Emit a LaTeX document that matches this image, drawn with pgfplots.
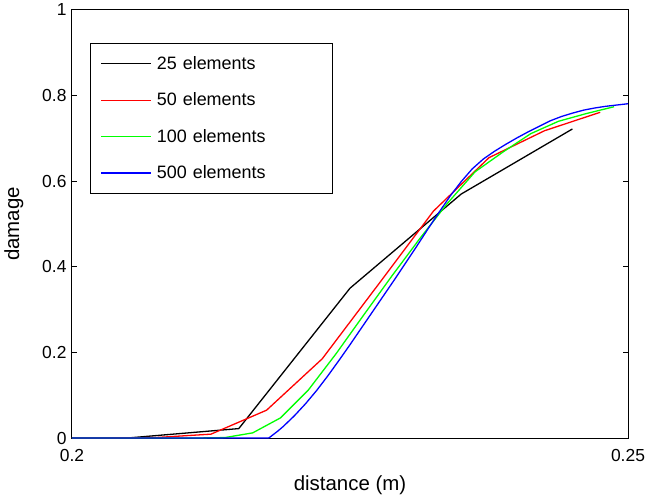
\documentclass[border=0pt]{standalone}
\usepackage{pgfplots}
\pgfplotsset{compat=1.18}
\usepackage{fontspec}
\setmainfont{Liberation Sans}

\begin{document}
\begin{tikzpicture}
\begin{axis}[
    scale only axis,
    width=556bp, height=428bp,
    xmin=0.2, xmax=0.25, ymin=0, ymax=1,
    xtick={0.2,0.25}, xticklabels={0.2,0.25},
    ytick={0,0.2,0.4,0.6,0.8,1},
    yticklabels={0,0.2,0.4,0.6,0.8,1},
    tick align=inside, major tick length=5bp,
    axis line style={line width=1bp},
    every tick/.style={black, line width=1bp},
    tick label style={font=\fontsize{17.5}{20}\selectfont},
    xticklabel style={yshift=-8bp},
    yticklabel style={xshift=-2bp},
    label style={font=\fontsize{20.5}{24}\selectfont},
    xlabel={distance (m)},
    ylabel={damage},
    xlabel style={at={(axis description cs:0.5,-0.1215)}, anchor=base},
    ylabel style={at={(axis description cs:-0.0953,0.5)}, anchor=base},
    legend cell align=left,
    legend image code/.code={\draw[#1, line width=1.4bp] (0bp,0bp) -- (50bp,0bp);},
    legend style={at={(rel axis cs:0.0324,0.9229)}, anchor=north west,
        draw=black, line width=1bp, inner xsep=10bp, inner ysep=11bp,
        row sep=18bp, column sep=4bp,
        font=\fontsize{18}{20}\selectfont,
        nodes={text width=165bp, align=left, inner xsep=1bp}},
    every axis plot/.append style={line width=1.3bp},
]
\addplot[black] coordinates {
    (0.2,0) (0.205,0) (0.215,0.022) (0.225,0.35) (0.235,0.57) (0.245,0.722)
};
\addlegendentry{25 elements}
\addplot[red] coordinates {
    (0.2,0) (0.2025,0) (0.2075,0.001) (0.2125,0.009) (0.2175,0.065)
    (0.2225,0.185) (0.2275,0.357) (0.2325,0.53) (0.2375,0.655)
    (0.2425,0.718) (0.2475,0.761)
};
\addlegendentry{50 elements}
\addplot[green] coordinates {
    (0.2,0) (0.21125,0) (0.21375,0.001) (0.21625,0.012) (0.21875,0.047)
    (0.22125,0.112) (0.22375,0.197) (0.22625,0.288) (0.22875,0.378)
    (0.23125,0.465) (0.23375,0.548) (0.23625,0.622) (0.23875,0.668)
    (0.24125,0.711) (0.24375,0.74) (0.24625,0.758) (0.24875,0.774)
};
\addlegendentry{100 elements}
\addplot[color=blue] coordinates {
    (0.2,0) (0.2177,0) (0.218,0.006) (0.2185,0.016) (0.219,0.027)
    (0.220,0.052) (0.221,0.080) (0.222,0.111) (0.223,0.145) (0.224,0.181)
    (0.225,0.218) (0.226,0.256) (0.227,0.294) (0.228,0.332) (0.229,0.370)
    (0.230,0.409) (0.231,0.448) (0.232,0.488) (0.233,0.527) (0.234,0.565)
    (0.235,0.599) (0.236,0.629) (0.237,0.652) (0.238,0.670) (0.239,0.686)
    (0.240,0.701) (0.241,0.715) (0.242,0.728) (0.243,0.741) (0.244,0.751)
    (0.245,0.759) (0.246,0.766) (0.247,0.771) (0.248,0.775) (0.249,0.778)
    (0.250,0.781)
};
\addlegendentry{500 elements}
\end{axis}
\pgfresetboundingbox
\useasboundingbox (-72bp,-63bp) rectangle (577bp,438bp);
\end{tikzpicture}
\end{document}
